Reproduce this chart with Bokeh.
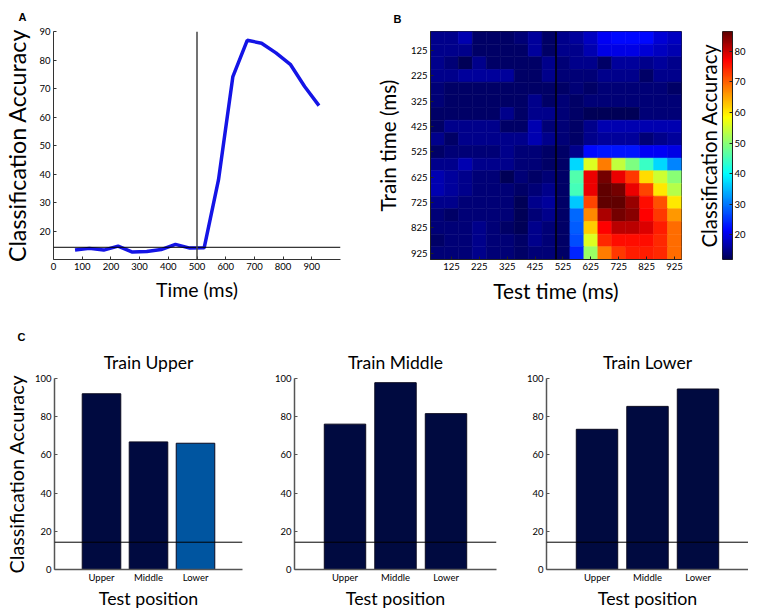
import numpy as np
from bokeh.plotting import figure
from bokeh.layouts import column, row
from bokeh.models import (Range1d, FixedTicker, Span, LinearColorMapper,
                          LinearAxis, ColumnDataSource, Title)
from bokeh.embed import file_html
from bokeh.resources import INLINE

# ---------------- data ----------------
# Panel A: classification accuracy over time
time_ms = [75, 125, 175, 225, 275, 325, 375, 425, 475, 525,
           575, 625, 675, 725, 775, 825, 875, 925]
accuracy = [13.3, 13.9, 13.3, 14.7, 12.6, 12.8, 13.5, 15.3, 14.0, 14.1,
            38.0, 74.2, 86.9, 85.9, 82.5, 78.5, 70.7, 64.0]
chance = 100.0 / 7.0
onset_ms = 500
a_xticks = [0, 100, 200, 300, 400, 500, 600, 700, 800, 900]
a_yticks = [20, 30, 40, 50, 60, 70, 80, 90]

# Panel B: temporal generalisation (rows = train time, cols = test time)
train_times = time_ms
test_times = time_ms
gen_matrix = [
    [15, 15, 17, 13, 13, 13, 14, 16, 13, 15, 16, 18, 21, 22, 22, 22, 19, 18],
    [15, 15, 15, 13, 13, 13, 13, 16, 13, 15, 15, 17, 20, 20, 20, 19, 18, 17],
    [15, 14, 12, 15, 13, 13, 13, 13, 15, 14, 15, 15, 13, 16, 16, 15, 16, 15],
    [15, 15, 16, 16, 16, 16, 13, 13, 15, 14, 14, 14, 15, 15, 15, 13, 15, 15],
    [14, 13, 13, 13, 13, 13, 13, 13, 13, 13, 14, 13, 14, 14, 14, 14, 14, 13],
    [14, 13, 13, 13, 13, 13, 13, 15, 13, 14, 13, 14, 14, 14, 14, 14, 14, 14],
    [13, 13, 13, 13, 13, 15, 13, 15, 15, 14, 13, 12, 12, 12, 12, 14, 14, 14],
    [13, 15, 15, 15, 15, 13, 13, 17, 14, 14, 13, 15, 17, 17, 17, 17, 17, 17],
    [15, 13, 15, 15, 15, 15, 15, 17, 15, 14, 13, 15, 16, 16, 16, 14, 15, 16],
    [13, 14, 14, 14, 14, 15, 14, 14, 13, 13, 15, 22, 23, 23, 23, 21, 21, 20],
    [15, 15, 17, 15, 15, 15, 14, 14, 13, 13, 37, 56, 68, 54, 49, 44, 37, 31],
    [17, 16, 15, 14, 14, 12, 14, 13, 14, 13, 46, 78, 85, 78, 73, 61, 55, 50],
    [17, 16, 15, 14, 14, 14, 13, 14, 15, 13, 45, 78, 87, 85, 78, 72, 60, 53],
    [15, 15, 14, 14, 14, 14, 12, 15, 16, 13, 36, 72, 87, 87, 83, 76, 71, 60],
    [14, 13, 14, 14, 14, 14, 12, 14, 15, 13, 29, 67, 82, 85, 84, 77, 73, 66],
    [14, 14, 14, 15, 14, 13, 12, 15, 14, 13, 28, 62, 77, 81, 81, 79, 75, 69],
    [13, 14, 14, 15, 14, 14, 13, 15, 14, 13, 27, 56, 74, 76, 76, 76, 74, 69],
    [14, 14, 14, 15, 14, 14, 13, 14, 14, 13, 24, 51, 68, 73, 75, 75, 74, 69],
]
b_ticks = [125, 225, 325, 425, 525, 625, 725, 825, 925]
cbar_low, cbar_high = 12.0, 86.4
cbar_ticks = [20, 30, 40, 50, 60, 70, 80]

# Panel C: train/test position generalisation
positions = ["Upper", "Middle", "Lower"]
train_upper = [92.0, 66.8, 66.1]
train_middle = [76.1, 97.8, 81.6]
train_lower = [73.4, 85.4, 94.5]
c_yticks = [0, 20, 40, 60, 80, 100]

# ---------------- styling ----------------
FONT = "Lato"
NAVY = "#000a40"
MIDBLUE = "#0055a0"


def jet_palette(n=256):
    t = np.linspace(0, 1, n)
    r = np.clip(1.5 - np.abs(4 * t - 3), 0, 1)
    g = np.clip(1.5 - np.abs(4 * t - 2), 0, 1)
    b = np.clip(1.5 - np.abs(4 * t - 1), 0, 1)
    # slightly deeper ends, as in the printed figure
    lo = t < 0.125
    b[lo] = 0.34 + 0.66 * t[lo] / 0.125
    hi = t > 0.875
    r[hi] = 1.0 - 0.62 * (t[hi] - 0.875) / 0.125
    return ["#%02x%02x%02x" % (int(rr * 255), int(gg * 255), int(bb * 255))
            for rr, gg, bb in zip(r, g, b)]


def base_fig(**kw):
    p = figure(output_backend="svg", toolbar_location=None, **kw)
    p.xgrid.visible = False
    p.ygrid.visible = False
    p.outline_line_color = None
    p.background_fill_color = "white"
    p.border_fill_color = "white"
    return p


def style_axis(ax, label_size, tick_size="9.5px", line_color="#333333", line_width=1):
    ax.axis_label_text_font = FONT
    ax.axis_label_text_font_size = label_size
    ax.axis_label_text_font_style = "normal"
    ax.axis_label_text_color = "black"
    ax.major_label_text_font = FONT
    ax.major_label_text_font_size = tick_size
    ax.major_label_text_color = "black"
    ax.axis_line_color = line_color
    ax.axis_line_width = line_width
    ax.major_tick_in = 3
    ax.major_tick_out = 0
    ax.minor_tick_in = 0
    ax.minor_tick_out = 0
    ax.major_tick_line_color = line_color
    ax.major_label_standoff = 3


def letter_title(t, text, offset, standoff):
    t.text = text
    t.align = "left"
    t.offset = offset
    t.standoff = standoff
    t.text_font = "Liberation Sans"
    t.text_font_style = "bold"
    t.text_font_size = "11px"
    t.text_color = "black"


# ---------------- Panel A ----------------
pA = base_fig(width=372, height=310, x_range=Range1d(0, 1000), y_range=Range1d(10, 90),
              min_border_left=44, min_border_right=32, min_border_top=30, min_border_bottom=48)
pA.line(time_ms, accuracy, line_color="#1414e6", line_width=3.5)
pA.add_layout(Span(location=chance, dimension="width", line_color="black", line_width=1))
pA.add_layout(Span(location=onset_ms, dimension="height", line_color="#444444", line_width=1.5))
pA.xaxis.ticker = FixedTicker(ticks=a_xticks)
pA.yaxis.ticker = FixedTicker(ticks=a_yticks)
pA.xaxis.axis_label = "Time (ms)"
pA.yaxis.axis_label = "Classification Accuracy"
style_axis(pA.xaxis[0], "19.5px")
style_axis(pA.yaxis[0], "23.2px")
pA.xaxis.axis_label_standoff = 5
pA.yaxis.axis_label_standoff = 5
letter_title(pA.title, "A", -35, 17)

# ---------------- Panel B ----------------
mapper = LinearColorMapper(palette=jet_palette(), low=cbar_low, high=cbar_high)
xs, ys, vs = [], [], []
for i, tr in enumerate(train_times):
    for j, te in enumerate(test_times):
        xs.append(te)
        ys.append(tr)
        vs.append(gen_matrix[i][j])
src = ColumnDataSource(dict(x=xs, y=ys, v=vs))

pB = base_fig(width=321, height=310, x_range=Range1d(50, 950), y_range=Range1d(950, 50),
              min_border_left=49, min_border_right=12, min_border_top=26, min_border_bottom=51)
pB.rect(x="x", y="y", width=50, height=50, source=src,
        fill_color={"field": "v", "transform": mapper},
        line_color={"field": "v", "transform": mapper}, line_width=0.6)
pB.add_layout(Span(location=onset_ms, dimension="height", line_color="black", line_width=1.5))
pB.xaxis.ticker = FixedTicker(ticks=b_ticks)
pB.yaxis.ticker = FixedTicker(ticks=b_ticks)
pB.xaxis.axis_label = "Test time (ms)"
pB.yaxis.axis_label = "Train time (ms)"
style_axis(pB.xaxis[0], "20.8px", line_color="#222222")
style_axis(pB.yaxis[0], "20.7px", line_color="#222222")
pB.xaxis.axis_label_standoff = 5
pB.yaxis.axis_label_standoff = 8
pB.outline_line_color = "#222222"
letter_title(pB.title, "B", -37, 13.5)

# ---------------- Colour bar ----------------
pCB = base_fig(width=55, height=310, x_range=Range1d(0, 1), y_range=Range1d(cbar_low, cbar_high),
               min_border_left=29, min_border_right=12, min_border_top=26, min_border_bottom=51,
               x_axis_location=None, y_axis_location="right")
grad = np.linspace(cbar_low, cbar_high, 256).reshape(256, 1)
pCB.image(image=[grad], x=0, y=cbar_low, dw=1, dh=cbar_high - cbar_low, color_mapper=mapper)
pCB.yaxis.ticker = FixedTicker(ticks=cbar_ticks)
style_axis(pCB.yaxis[0], "9.5px", line_color="#222222")
pCB.yaxis.major_label_standoff = 2
pCB.outline_line_color = "#222222"
left_lab = LinearAxis(axis_label="Classification Accuracy", ticker=FixedTicker(ticks=[]),
                      axis_line_color=None, major_tick_in=0, major_tick_out=0,
                      minor_tick_in=0, minor_tick_out=0,
                      axis_label_text_font=FONT, axis_label_text_font_size="20.3px",
                      axis_label_text_font_style="normal", axis_label_text_color="black",
                      axis_label_standoff=2)
pCB.add_layout(left_lab, "left")


# ---------------- Panel C ----------------
def bar_panel(title, vals, colors, width, left, right, ylabel=None, letter=None):
    p = base_fig(width=width, height=301, x_range=Range1d(0, 4), y_range=Range1d(0, 100),
                 min_border_left=left, min_border_right=right, min_border_top=68,
                 min_border_bottom=39)
    p.vbar(x=[1, 2, 3], top=vals, width=0.82, fill_color=colors, line_color="#0a0a20",
           line_width=1)
    p.add_layout(Span(location=chance, dimension="width", line_color="black", line_width=1))
    p.xaxis.ticker = FixedTicker(ticks=[1, 2, 3])
    p.xaxis.major_label_overrides = {1: positions[0], 2: positions[1], 3: positions[2]}
    p.yaxis.ticker = FixedTicker(ticks=c_yticks)
    p.xaxis.axis_label = "Test position"
    style_axis(p.xaxis[0], "17.8px", line_color="#555555", line_width=1.5)
    style_axis(p.yaxis[0], "19.8px", line_color="#555555", line_width=1.5)
    p.xaxis.major_tick_in = 0
    p.xaxis.major_label_standoff = 2
    p.xaxis.axis_label_standoff = 1
    if ylabel:
        p.yaxis.axis_label = ylabel
        p.yaxis.axis_label_standoff = 4
    t = Title(text=title, align="center", text_font=FONT, text_font_size="17.5px",
              text_font_style="normal", text_color="black", standoff=11)
    if letter:
        letter_title(p.title, letter[0], letter[1], 4)
        p.add_layout(t, "above")
    else:
        p.title = t
    return p


colors_upper = [NAVY, NAVY, MIDBLUE]
colors_other = [NAVY, NAVY, NAVY]
c1 = bar_panel("Train Upper", train_upper, colors_upper, 262, 40, 20,
               "Classification Accuracy", ("C", -37))
c2 = bar_panel("Train Middle", train_middle, colors_other, 250, 32, 16)
c3 = bar_panel("Train Lower", train_lower, colors_other, 236, 34, 0)

layout = column(row(pA, pB, pCB), row(c1, c2, c3))
open("out.html", "w").write(file_html(layout, INLINE))
